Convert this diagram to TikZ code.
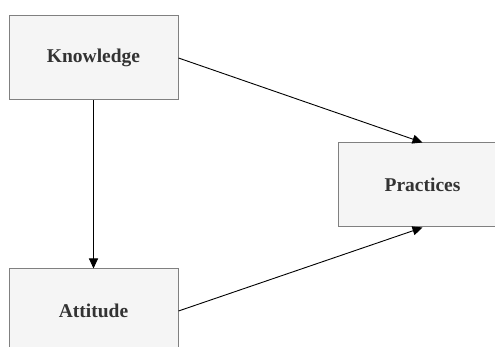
\documentclass[tikz,border=0pt]{standalone}
\usepackage{fontspec}
\setmainfont{Liberation Serif}
\usetikzlibrary{arrows.meta}
\definecolor{boxfill}{HTML}{F5F5F5}
\definecolor{boxline}{HTML}{808080}
\definecolor{txt}{HTML}{333333}
\tikzset{
  box/.style={draw=boxline, line width=1pt, fill=boxfill, minimum width=169pt, minimum height=84pt, inner sep=0pt, font=\fontsize{19.5}{22}\selectfont\bfseries, text=txt},
  conn/.style={draw=black, line width=0.9pt, -{Triangle[length=10pt,width=9pt]}}
}
\begin{document}
\begin{tikzpicture}[x=1pt,y=-1pt]
\useasboundingbox (0,0) rectangle (495,347);
\begin{scope}
\clip (0,0) rectangle (495,347);
\node[box] (k) at (93.5,58) {Knowledge};
\node[box] (p) at (422.5,185) {Practices};
\node[box] (a) at (93.5,311) {Attitude};
\draw[conn] (k.east) -- (p.north);
\draw[conn] (a.east) -- (p.south);
\draw[conn] (k.south) -- (a.north);
\end{scope}
\end{tikzpicture}
\end{document}
